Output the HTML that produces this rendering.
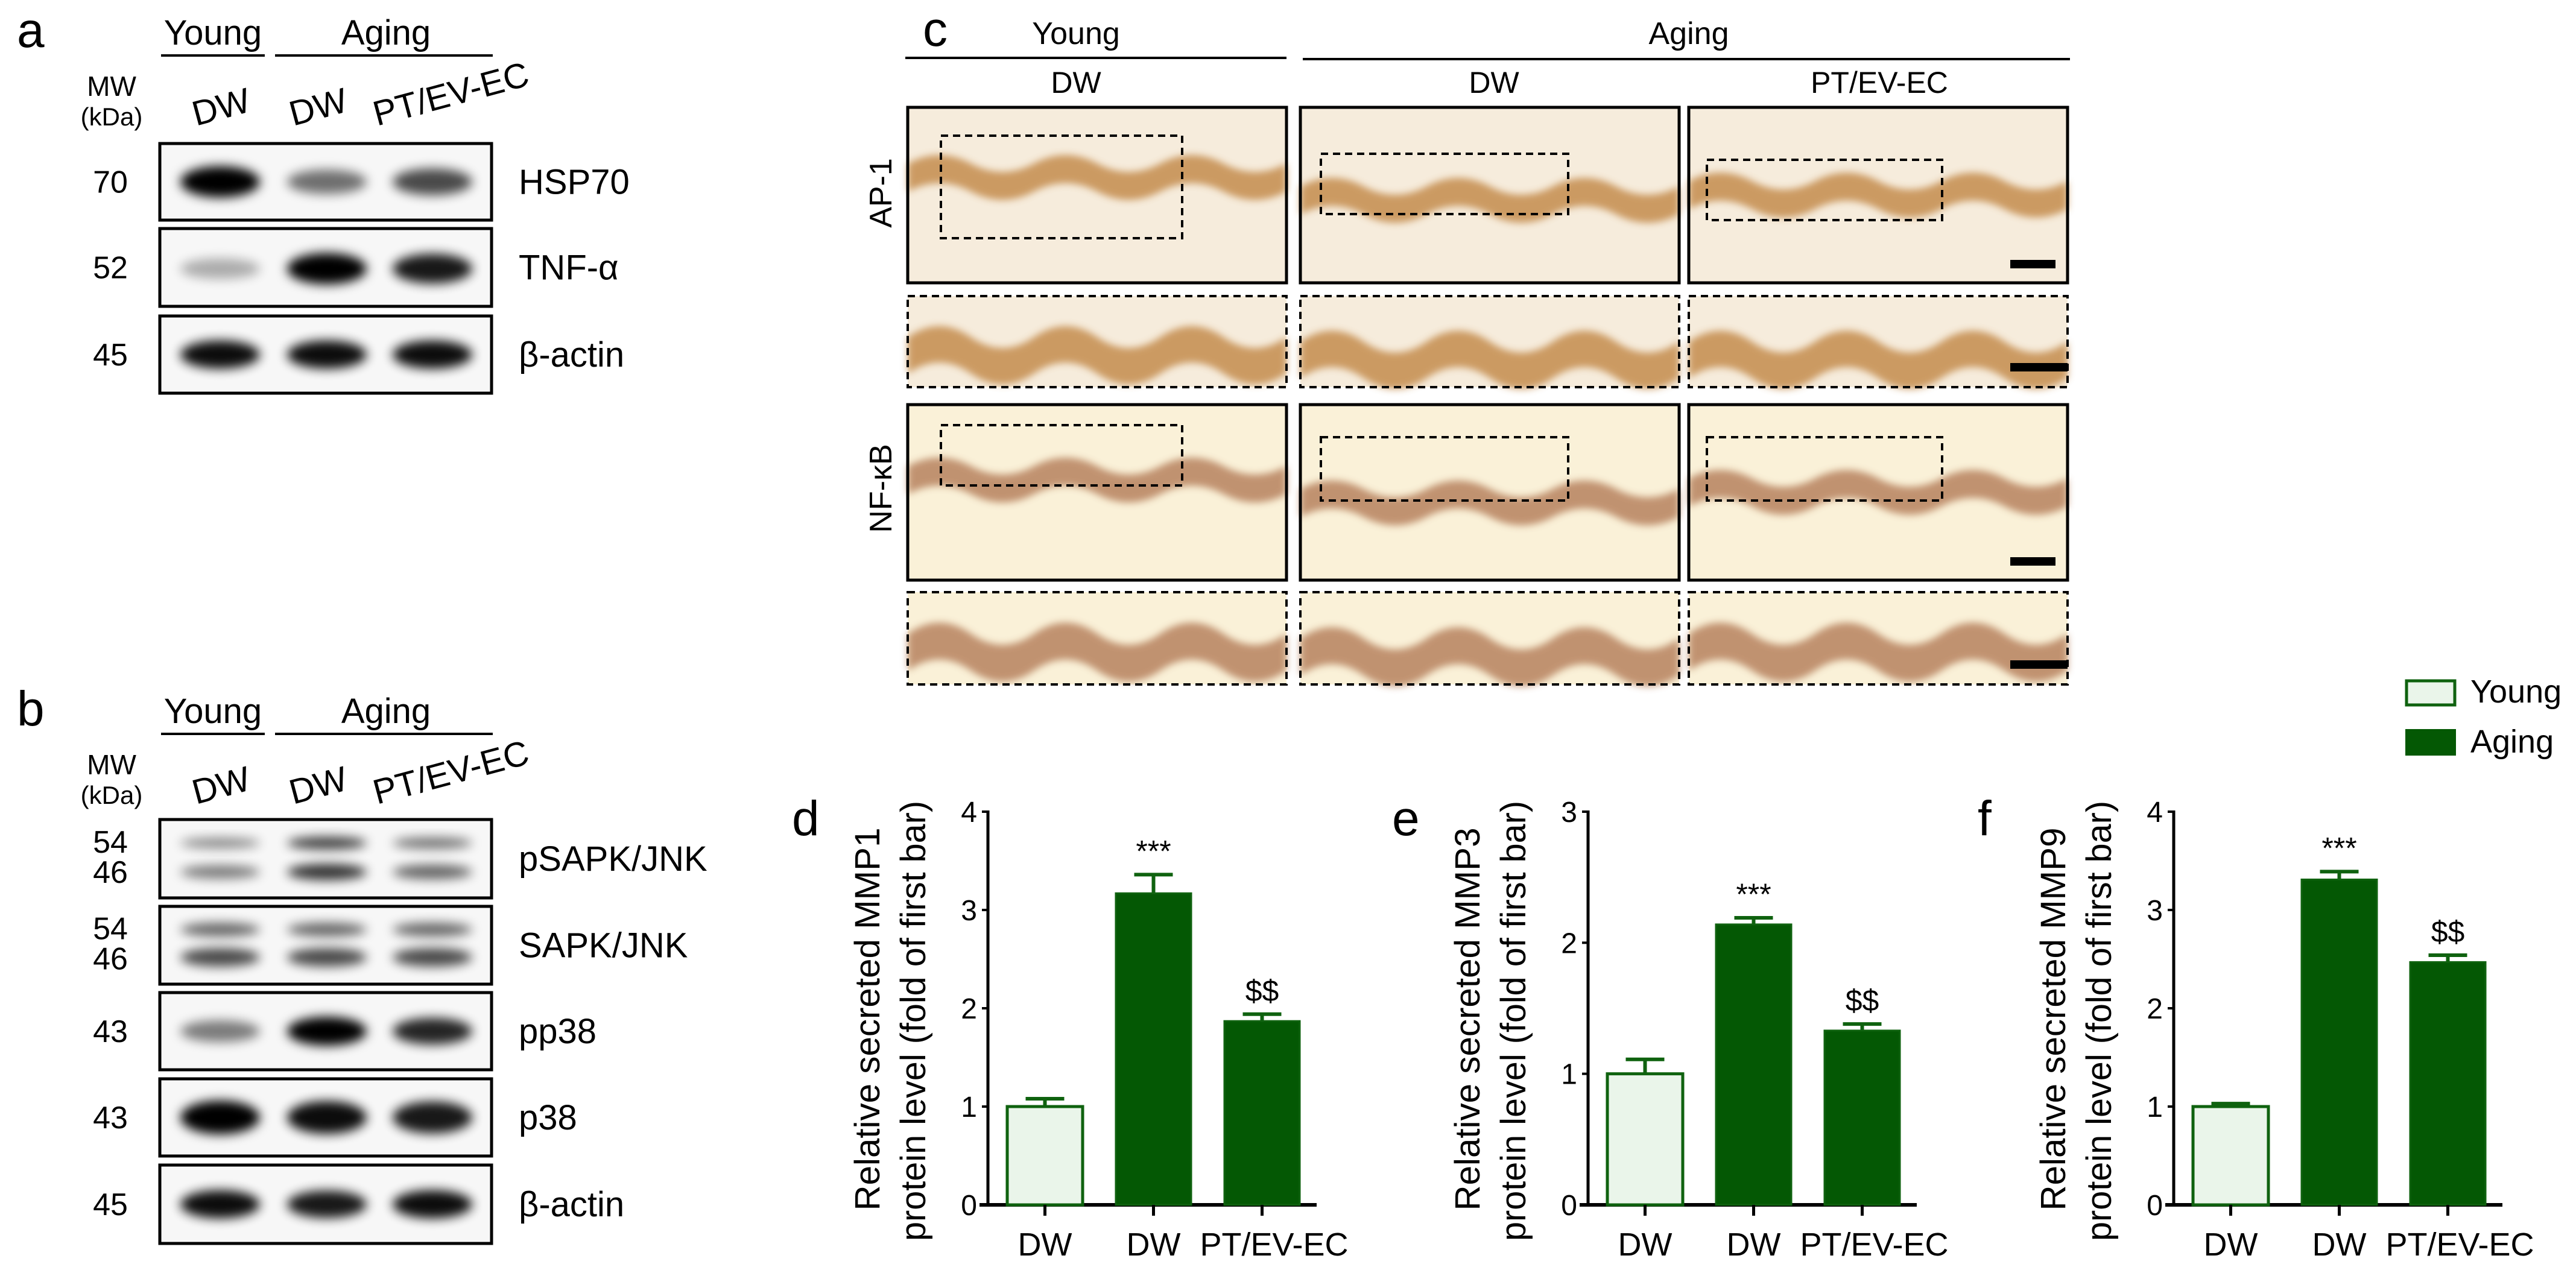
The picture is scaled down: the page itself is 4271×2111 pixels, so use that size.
<!DOCTYPE html>
<html><head><meta charset="utf-8"><title>Figure</title>
<style>
html,body{margin:0;padding:0;background:#fff;}
svg{display:block;font-family:"Liberation Sans",Arial,sans-serif;}
</style></head>
<body>
<svg id="fig" width="4271" height="2111" viewBox="0 0 4271 2111" xmlns="http://www.w3.org/2000/svg">
<defs>
<filter id="blur" x="-30%" y="-80%" width="160%" height="260%"><feGaussianBlur stdDeviation="9"/></filter>
<filter id="blur2" x="-10%" y="-30%" width="120%" height="160%"><feGaussianBlur stdDeviation="6"/></filter>
</defs>
<g id="panelA"></g>
<g id="panelB"></g>
<g id="panelC"></g>
<g id="legend">
  <rect x="3990" y="1129" width="80" height="40" fill="#eaf5ea" stroke="#0f620f" stroke-width="5"/>
  <text x="4096" y="1165" font-size="54">Young</text>
  <rect x="3988" y="1209" width="84" height="44" fill="#045804"/>
  <text x="4096" y="1248" font-size="54">Aging</text>
</g>
<g id="charts"></g>
</svg>
<script>
// ---- chart data ----
var categories = ["DW", "DW", "PT/EV-EC"];
var groups = ["Young", "Aging", "Aging"];
var mmp1Values = [1.0, 3.17, 1.87];
var mmp1Errors = [0.08, 0.19, 0.07];
var mmp3Values = [1.0, 2.14, 1.33];
var mmp3Errors = [0.11, 0.05, 0.05];
var mmp9Values = [1.0, 3.31, 2.47];
var mmp9Errors = [0.03, 0.08, 0.07];
var mmp1Ticks = [0, 1, 2, 3, 4];
var mmp3Ticks = [0, 1, 2, 3];
var mmp9Ticks = [0, 1, 2, 3, 4];
var sigLabels = ["", "***", "$$"];

var NS = "http://www.w3.org/2000/svg";
function mk(tag, attrs, parent, txt) {
  var e = document.createElementNS(NS, tag);
  for (var k in attrs) e.setAttribute(k, attrs[k]);
  if (txt !== undefined) e.textContent = txt;
  parent.appendChild(e);
  return e;
}

// ---- bar charts ----
function drawChart(letter, axisX, vals, errs, ticks, title1, name) {
  var root = document.getElementById("charts");
  var g = mk("g", {}, root);
  
  
  var y0 = 1998, yTop = 1346, maxV = ticks[ticks.length - 1];
  function ys(v) { return y0 - (v / maxV) * (y0 - yTop); }
  function xs(i) { return axisX + 32 + i * 180; }
  var bw = 125;
  var lab = mk("text", {x: axisX - 325, y: 1385, "font-size": 82}, g, letter);
  
  
  var t1 = mk("text", {transform: "translate(" + (axisX - 180) + ",1690) rotate(-90)", "font-size": 58, "text-anchor": "middle", textLength: 635, lengthAdjust: "spacingAndGlyphs"}, g, title1);
  
  
  var t2 = mk("text", {transform: "translate(" + (axisX - 104) + ",1693) rotate(-90)", "font-size": 58, "text-anchor": "middle", textLength: 730, lengthAdjust: "spacingAndGlyphs"}, g, "protein level (fold of first bar)");
  
  
  var ax = mk("line", {x1: axisX, y1: yTop - 2, x2: axisX, y2: y0, stroke: "#000", "stroke-width": 5}, g);
  
  
  for (var k = 0; k < ticks.length; k++) {
    var ty = ys(ticks[k]);
    mk("line", {x1: axisX - 10, y1: ty, x2: axisX, y2: ty, stroke: "#000", "stroke-width": 4}, g);
    var tl = mk("text", {x: axisX - 18, y: ty + 17, "font-size": 48, "text-anchor": "end"}, g, String(ticks[k]));
    
    
  }
  var xa = mk("line", {x1: axisX - 14, y1: y0, x2: axisX + 545, y2: y0, stroke: "#000", "stroke-width": 6}, g);
  
  
  for (var i = 0; i < vals.length; i++) {
    var x = xs(i), top = ys(vals[i]), cx = x + bw / 2;
    var young = groups[i] === "Young";
    var r = mk("rect", {x: x, y: top, width: bw, height: y0 - top,
      fill: young ? "#eaf5ea" : "#045804", stroke: "#0f620f", "stroke-width": young ? 5 : 3}, g);
    
    
    var et = ys(vals[i] + errs[i]);
    var eb = mk("path", {d: "M" + cx + " " + top + "V" + et + "M" + (cx - 32) + " " + et + "H" + (cx + 32), stroke: "#0f620f", "stroke-width": 6, fill: "none"}, g);
    
    
    mk("line", {x1: cx, y1: y0, x2: cx, y2: y0 + 18, stroke: "#000", "stroke-width": 5}, g);
    if (sigLabels[i]) {
      var s = mk("text", {x: cx, y: et - 22, "font-size": 50, "text-anchor": "middle"}, g, sigLabels[i]);
      
      
    }
  }
  var c1 = mk("text", {x: xs(0) + bw / 2, y: 2082, "font-size": 54, "text-anchor": "middle"}, g, categories[0]);
  
  
  var c2 = mk("text", {x: xs(1) + bw / 2, y: 2082, "font-size": 54, "text-anchor": "middle"}, g, categories[1]);
  
  
  var c3 = mk("text", {x: xs(2) + bw / 2 + 20, y: 2082, "font-size": 54, "text-anchor": "middle"}, g, categories[2]);
  
  
}
drawChart("d", 1638, mmp1Values, mmp1Errors, mmp1Ticks, "Relative secreted MMP1", "mmp1");
drawChart("e", 2633, mmp3Values, mmp3Errors, mmp3Ticks, "Relative secreted MMP3", "mmp3");
drawChart("f", 3604, mmp9Values, mmp9Errors, mmp9Ticks, "Relative secreted MMP9", "mmp9");

// ---- western blots ----
var laneX = [365, 542, 717];
function blotHeader(g, letter, baseY) {
  var l = mk("text", {x: 28, y: baseY + 4, "font-size": 82}, g, letter);
  
  
  mk("text", {x: 353, y: baseY, "font-size": 58, "text-anchor": "middle"}, g, "Young");
  mk("line", {x1: 267, y1: baseY + 18, x2: 439, y2: baseY + 18, stroke: "#000", "stroke-width": 4}, g);
  mk("text", {x: 640, y: baseY, "font-size": 58, "text-anchor": "middle"}, g, "Aging");
  mk("line", {x1: 456, y1: baseY + 18, x2: 817, y2: baseY + 18, stroke: "#000", "stroke-width": 4}, g);
  mk("text", {x: 185, y: baseY + 85, "font-size": 46, "text-anchor": "middle"}, g, "MW");
  mk("text", {x: 185, y: baseY + 134, "font-size": 42, "text-anchor": "middle"}, g, "(kDa)");
  mk("text", {transform: "translate(325," + (baseY + 135) + ") rotate(-15)", "font-size": 58}, g, "DW");
  mk("text", {transform: "translate(486," + (baseY + 135) + ") rotate(-15)", "font-size": 58}, g, "DW");
  mk("text", {transform: "translate(625," + (baseY + 135) + ") rotate(-15)", "font-size": 58}, g, "PT/EV-EC");
}
function blotRow(g, y1, y2, name, mws, bands) {
  var rg = mk("g", {}, g);
  
  
  mk("rect", {x: 265, y: y1, width: 550, height: y2 - y1, fill: "#f7f7f7"}, rg);
  var cy = (y1 + y2) / 2;
  for (var b = 0; b < bands.length; b++) {
    var band = bands[b];
    for (var i = 0; i < 3; i++) {
      var inten = band.v[i];
      mk("ellipse", {cx: laneX[i], cy: cy + band.dy, rx: 66, ry: band.h * (0.5 + inten * 0.5), fill: "#000", opacity: Math.min(1, inten), filter: "url(#blur)"}, rg);
    }
  }
  mk("rect", {x: 265, y: y1, width: 550, height: y2 - y1, fill: "none", stroke: "#000", "stroke-width": 5}, rg);
  var lab = mk("text", {x: 860, y: cy + 20, "font-size": 58}, rg, name);
  
  
  if (mws.length === 1) {
    mk("text", {x: 183, y: cy + 18, "font-size": 52, "text-anchor": "middle"}, rg, mws[0]);
  } else {
    mk("text", {x: 183, y: cy - 10, "font-size": 52, "text-anchor": "middle"}, rg, mws[0]);
    mk("text", {x: 183, y: cy + 40, "font-size": 52, "text-anchor": "middle"}, rg, mws[1]);
  }
}
var gA = document.getElementById("panelA");
blotHeader(gA, "a", 74);
blotRow(gA, 238, 365, "HSP70", ["70"], [{dy: 0, h: 26, v: [1.0, 0.55, 0.7]}]);
blotRow(gA, 379, 508, "TNF-α", ["52"], [{dy: 2, h: 26, v: [0.3, 1.0, 0.9]}]);
blotRow(gA, 524, 652, "β-actin", ["45"], [{dy: 0, h: 24, v: [0.95, 0.95, 0.95]}]);
var gB = document.getElementById("panelB");
blotHeader(gB, "b", 1199);
blotRow(gB, 1359, 1489, "pSAPK/JNK", ["54", "46"], [{dy: -26, h: 12, v: [0.45, 0.75, 0.55]}, {dy: 22, h: 15, v: [0.5, 0.8, 0.6]}]);
blotRow(gB, 1503, 1632, "SAPK/JNK", ["54", "46"], [{dy: -26, h: 14, v: [0.6, 0.6, 0.6]}, {dy: 20, h: 18, v: [0.7, 0.7, 0.7]}]);
blotRow(gB, 1646, 1774, "pp38", ["43"], [{dy: 0, h: 24, v: [0.5, 1.0, 0.85]}]);
blotRow(gB, 1789, 1917, "p38", ["43"], [{dy: 0, h: 28, v: [1.0, 0.95, 0.9]}]);
blotRow(gB, 1932, 2062, "β-actin", ["45"], [{dy: 0, h: 24, v: [0.95, 0.9, 0.95]}]);

// ---- histology panel c ----
var gC = document.getElementById("panelC");
var cl = mk("text", {x: 1530, y: 76, "font-size": 82}, gC, "c");


mk("text", {x: 1784, y: 73, "font-size": 52, "text-anchor": "middle"}, gC, "Young");
mk("line", {x1: 1501, y1: 96, x2: 2133, y2: 96, stroke: "#000", "stroke-width": 4}, gC);
mk("text", {x: 2800, y: 73, "font-size": 52, "text-anchor": "middle"}, gC, "Aging");
mk("line", {x1: 2160, y1: 98, x2: 3432, y2: 98, stroke: "#000", "stroke-width": 4}, gC);
mk("text", {x: 1784, y: 154, "font-size": 50, "text-anchor": "middle"}, gC, "DW");
mk("text", {x: 2477, y: 154, "font-size": 50, "text-anchor": "middle"}, gC, "DW");
mk("text", {x: 3116, y: 154, "font-size": 50, "text-anchor": "middle"}, gC, "PT/EV-EC");
mk("text", {transform: "translate(1478,320) rotate(-90)", "font-size": 52, "text-anchor": "middle"}, gC, "AP-1");
mk("text", {transform: "translate(1478,810) rotate(-90)", "font-size": 52, "text-anchor": "middle"}, gC, "NF-κB");
var colX = [[1505, 2133], [2156, 2784], [2800, 3428]];
var rowY = [[178, 469, 0], [491, 642, 1], [671, 962, 0], [982, 1135, 1]];
var bandPos = [[0.32, 0.45, 0.42], [0.45, 0.5, 0.5], [0.35, 0.48, 0.42], [0.45, 0.5, 0.45]];
for (var r = 0; r < 4; r++) {
  for (var c = 0; c < 3; c++) {
    var x1 = colX[c][0], x2 = colX[c][1], y1 = rowY[r][0], y2 = rowY[r][1], inset = rowY[r][2];
    var pg = mk("g", {}, gC);
    
    
    mk("rect", {x: x1, y: y1, width: x2 - x1, height: y2 - y1, fill: r < 2 ? "#f6ecdc" : "#faf1d8"}, pg);
    var h = y2 - y1, w = x2 - x1, by = y1 + h * bandPos[r][c];
    var th = inset ? h * 0.4 : h * 0.16;
    var d = "M" + x1 + " " + by;
    for (var s = 1; s <= 6; s++) d += " Q" + (x1 + w * (s - 0.5) / 6) + " " + (by + (s % 2 ? -th * 0.6 : th * 0.6)) + " " + (x1 + w * s / 6) + " " + by;
    d += " L" + x2 + " " + (by + th);
    for (var s2 = 5; s2 >= 0; s2--) d += " Q" + (x1 + w * (s2 + 0.5) / 6) + " " + (by + th + (s2 % 2 ? th * 0.6 : -th * 0.6)) + " " + (x1 + w * s2 / 6) + " " + (by + th);
    d += "Z";
    mk("path", {d: d, fill: r < 2 ? "#c48c4e" : "#b7825f", opacity: 0.85, filter: "url(#blur2)"}, pg);
    mk("rect", {x: x1, y: y1, width: w, height: h, fill: "none", stroke: "#000", "stroke-width": inset ? 4 : 5, "stroke-dasharray": inset ? "12 8" : "none"}, pg);
    if (!inset) {
      var ix = [[1560, 1960], [2190, 2600], [2830, 3220]][c];
      var iy = r === 0 ? [[225, 395], [255, 355], [265, 365]][c] : [[705, 805], [725, 830], [725, 830]][c];
      mk("rect", {x: ix[0], y: iy[0], width: ix[1] - ix[0], height: iy[1] - iy[0], fill: "none", stroke: "#000", "stroke-width": 4, "stroke-dasharray": "12 8"}, pg);
    }
    if (c === 2) {
      var sb = mk("rect", {x: x2 - 95, y: y2 - (inset ? 40 : 38), width: inset ? 95 : 75, height: 14, fill: "#000"}, pg);
      
      
    }
  }
}
</script>
</body></html>
